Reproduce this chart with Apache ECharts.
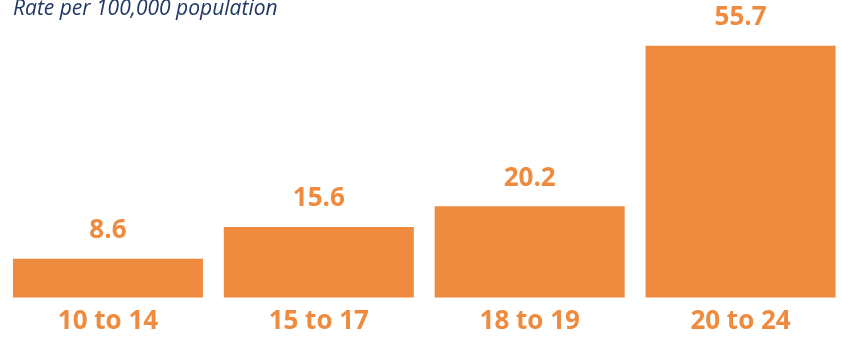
<!DOCTYPE html>
<html>
<head>
<meta charset="utf-8">
<script src="https://cdn.jsdelivr.net/npm/echarts@6/dist/echarts.min.js"></script>
<style>
  html, body { margin: 0; padding: 0; background: #fff; overflow: hidden; }
  /* slightly wider than the window: the last bar runs to the right edge */
  #chart { width: 846px; height: 339px; }
</style>
</head>
<body>
<div id="chart"></div>
<script>
const ageGroups = ['10 to 14', '15 to 17', '18 to 19', '20 to 24'];
const rates = [8.6, 15.6, 20.2, 55.7];

const orange = '#EE8B3E';

const myChart = echarts.init(document.getElementById('chart'), null, { renderer: 'canvas' });

myChart.setOption({
    animation: false,
    title: {
        text: 'Rate per 100,000 population',
        left: 8,
        top: -6,
        textStyle: {
            fontFamily: 'Open Sans',
            fontStyle: 'italic',
            fontWeight: 'normal',
            fontSize: 21,
            color: '#1F3864'
        }
    },
    grid: {
        left: 2.5,
        right: 0,
        top: 26.3,
        bottom: 41.5
    },
    xAxis: {
        type: 'category',
        data: ageGroups,
        axisLine: { show: false },
        axisTick: { show: false },
        axisLabel: {
            margin: 11,
            fontFamily: 'Open Sans',
            fontWeight: 'bold',
            fontSize: 26,
            color: orange
        }
    },
    yAxis: {
        type: 'value',
        min: 0,
        max: 60,
        show: false
    },
    series: [
        {
            type: 'bar',
            data: rates,
            barWidth: 190,
            itemStyle: { color: orange },
            label: {
                show: true,
                position: 'top',
                distance: 15,
                fontFamily: 'Open Sans',
                fontWeight: 'bold',
                fontSize: 26,
                color: orange
            }
        }
    ]
});
</script>
</body>
</html>
